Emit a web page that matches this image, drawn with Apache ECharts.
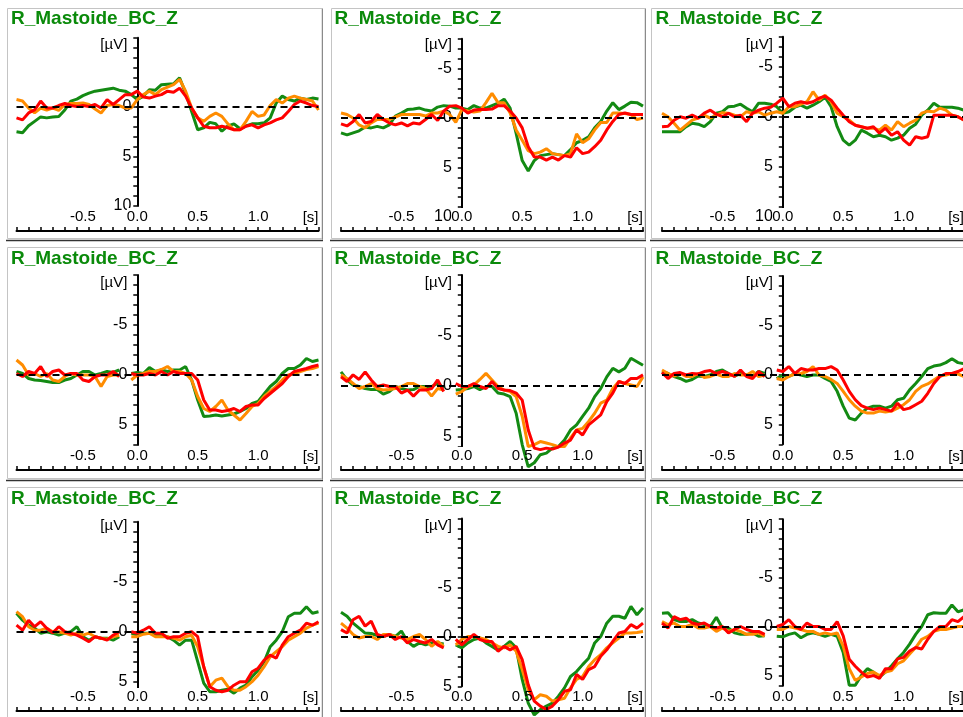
<!DOCTYPE html>
<html><head><meta charset="utf-8">
<script src="https://cdn.jsdelivr.net/npm/echarts@6/dist/echarts.min.js"></script>
<style>html,body{margin:0;padding:0;background:#fff}#c{width:963px;height:717px}</style>
</head><body><div id="c"></div>
<script>
// ---------------- data ----------------
const times = [-1.0,-0.95,-0.9,-0.85,-0.8,-0.75,-0.7,-0.65,-0.6,-0.55,
  -0.5,-0.45,-0.4,-0.35,-0.3,-0.25,-0.2,-0.15,-0.1,-0.05,
  0.0,0.05,0.1,0.15,0.2,0.25,0.3,0.35,0.4,0.45,
  0.5,0.55,0.6,0.65,0.7,0.75,0.8,0.85,0.9,0.95,
  1.0,1.05,1.1,1.15,1.2,1.25,1.3,1.35,1.4,1.45,1.5];
const panelTitle = 'R_Mastoide_BC_Z';
const xTickLabels = ['-0.5','0.0','0.5','1.0'];
const xUnit = '[s]';
const yUnit = '[µV]';
const yTickLabels = [[0,5,10],[-5,0,5,10],[-5,0,5,10],[-5,0,5],[-5,0,5],[-5,0,5],[-5,0,5],[-5,0,5],[-5,0,5]];

const green1 = [2.5,2.6,1.9,1.45,1.0,1.1,1.0,0.95,0.3,-0.6, -0.8,-1.15,-1.4,-1.6,-1.7,-1.8,-1.9,-1.7,-1.6,-1.25, -0.75,-1.1,-1.75,-1.7,-2.25,-2.3,-2.35,-2.95,-1.4,0.45, 2.3,2.1,1.55,1.7,2.45,1.9,1.7,2.2,1.9,1.7, 1.7,1.6,1.1,-0.4,-1.1,-0.75,-0.6,-0.9,-0.75,-0.9, -0.8];
const orange1 = [-0.75,-0.6,0.1,0.6,0.1,0.3,0.1,0.35,-0.25,-0.35, -0.35,-0.4,-0.25,0.2,0.6,-0.15,-0.25,-0.15,0.1,0.1, -0.75,-1.25,-1.6,-1.25,-1.75,-2.0,-2.25,-2.8,-1.6,0.1, 1.1,1.45,0.95,0.6,0.95,1.7,2.3,2.3,1.45,0.45, 0.95,0.8,-0.15,-0.75,-0.4,-0.9,-1.1,-0.9,-0.75,-0.6, 0.3];
const red1 = [1.1,1.3,0.6,0.3,-0.6,0.1,0.1,-0.15,-0.35,-0.15, -0.05,-0.15,-0.05,-0.25,0.1,-0.75,-0.25,-0.75,-1.25,-1.25, -1.6,-1.0,-0.9,-1.1,-1.25,-1.6,-1.5,-1.9,-1.1,0.1, 1.1,1.95,2.1,2.1,1.95,2.1,2.3,2.3,1.95,1.8, 2.1,1.8,1.6,1.3,1.1,0.45,-0.25,-0.6,-0.4,-0.15, -0.05];

const green2 = [1.5,1.7,1.5,1.3,0.9,1.0,0.85,1.0,0.7,-0.2, -0.5,-0.85,-0.9,-1.0,-0.8,-0.7,-1.1,-1.25,-1.2,-1.0, -1.0,-0.85,-1.25,-1.0,-1.0,-1.25,-1.5,-1.9,-1.0,1.55, 4.3,5.35,4.3,3.8,3.7,3.6,3.7,3.8,3.2,2.5, 2.25,1.9,1.0,0.35,-0.7,-1.55,-0.85,-1.2,-1.6,-1.55, -1.2];
const orange2 = [-0.5,-0.35,0,0.7,1.0,0.5,0.15,0.15,0.15,-0.1, -0.35,-0.35,-0.35,-0.35,-0.2,-0.5,-0.5,-0.7,-0.35,0.45, -0.85,-0.7,-0.6,-0.7,-1.55,-2.5,-1.55,-1.55,-0.5,1.2, 2.25,3.3,3.6,3.45,3.1,3.6,3.7,3.8,3.6,1.6, 2.5,2.1,1.2,0.45,0.45,-0.5,-0.5,-0.45,-0.35,0.15, 0];
const red2 = [0.6,0.8,0.35,-0.35,0.5,0.35,-0.35,0.15,0.5,0.7, 0.5,0.8,0.5,0.6,0.15,-0.35,0.25,-0.7,-1.2,-1.25, -1.0,-0.5,-0.8,-0.85,-0.85,-0.9,-1.25,-1.25,-0.7,0, 1.0,2.9,3.95,3.95,4.25,3.95,4.25,3.8,3.95,3.0, 3.6,3.45,2.9,2.25,1.2,0.35,-0.35,-0.5,-0.35,-0.35, -0.35];

const green3 = [1.5,1.5,1.5,1.5,1.0,0.65,0.75,1.0,0.5,-0.35, -0.5,-1.0,-1.05,-1.25,-0.85,-0.5,-1.35,-1.35,-1.25,-1.0, -0.35,-0.5,-0.95,-1.15,-0.85,-1.15,-1.5,-1.95,-1.0,1.0, 2.35,2.85,2.35,1.35,1.65,2.0,1.85,2.0,2.35,2.15, 1.85,1.15,0.75,-0.15,-0.65,-1.35,-0.95,-0.95,-0.95,-0.85, -0.65];
const orange3 = [-0.35,0,0.65,1.35,0.85,0.35,0.15,-0.15,0.15,-0.15, -0.4,-0.35,-0.15,0,-0.5,-0.35,-0.5,-0.15,-0.35,-0.5, -0.35,-1.0,-1.0,-1.25,-1.5,-2.5,-1.65,-2.15,-1.5,-0.35, 0,0.35,0.85,1.0,1.15,1.15,1.35,0.85,1.35,0.5, 1.0,0.65,0.35,-0.35,-0.55,-0.5,-0.85,-0.65,-0.15,0, 0.35];
const red3 = [1.0,0.95,0.35,0,0.15,-0.15,0.15,-0.35,-0.65,-0.25, 0,-0.35,0,-0.15,0.5,-0.35,-0.65,-0.85,-0.95,-1.35, -1.85,-1.0,-1.35,-1.5,-1.35,-1.5,-1.85,-2.05,-1.65,-0.85, -0.15,0.5,0.85,1.0,1.15,1.0,1.65,1.15,1.85,1.5, 2.35,2.85,2.0,2.15,2.0,-0.15,-0.15,-0.15,-0.15,0, 0.35];

const green4 = [-0.35,-0.15,0.35,0.5,0.55,0.65,0.75,0.75,0.5,0.35, 0,-0.35,-0.35,0,-0.15,-0.35,-0.25,-0.5,null,-0.15, -0.25,-0.15,-0.75,-0.35,-0.5,-0.35,-0.5,-0.5,-0.85,0.5, 2.5,4.15,4.1,4.0,4.1,4.0,3.9,3.65,3.35,2.85, 2.65,1.9,1.15,0.65,-0.15,-0.65,-0.65,-1.0,-1.65,-1.35, -1.5];
const orange4 = [-1.5,-1.0,0,-0.15,0.15,-0.15,0.5,0.65,0.15,-0.15, 0,0,0,0.15,1.15,0.15,0,0,null,0.5, 0,-0.15,-0.35,-0.35,-0.55,-0.85,-0.35,-0.35,-0.15,0.5, 2.15,3.35,3.65,3.15,2.5,3.5,4.0,4.5,3.85,3.15, 2.85,2.15,1.65,1.15,0.5,0,-0.15,-0.35,-0.55,-0.65, -0.85];
const red4 = [-0.15,0.15,-0.35,-0.15,-0.85,0.15,-0.35,-0.5,0,-0.15, -0.15,0.5,0.65,0.15,0,0,-0.35,0.15,null,-0.15, 0,0,-0.15,0,-0.35,0,-0.35,-0.15,-0.15,-0.15, 0.5,2.5,3.5,3.5,3.65,3.55,3.35,3.65,3.15,3.0, 3.0,2.35,1.85,1.35,0.85,0.15,-0.35,-0.5,-0.65,-0.85, -1.0];

const green5 = [-1.4,-0.6,-0.1,0.05,0.25,0.35,0.35,0.8,0.55,0.05, 0.25,0.4,0.35,0.05,0.05,0.05,-0.25,0.2,null,0.4, 0.35,0.25,0.05,0.35,0.05,0.05,0.7,0.8,1.05,2.7, 5.8,8.0,7.6,6.8,6.65,6.15,6.0,5.35,4.35,3.85, 3.0,2.2,1.05,0.25,-0.9,-1.75,-1.4,-1.75,-2.75,-2.4, -2.05];
const orange5 = [-1.1,-0.75,-0.25,0.25,0.05,-0.25,0.25,0.4,0.35,0.25, 0.05,-0.25,-0.25,0.05,0.25,1.0,0.25,0.4,null,0.8, 0.55,0.05,-0.1,-0.65,-1.25,-0.6,0.05,0.4,0.55,1.05, 3.0,6.0,5.8,5.5,5.65,5.8,6.0,6.0,5.15,4.35, 4.2,3.5,2.7,1.7,1.4,0.25,-0.45,-0.25,-0.1,0.05, -0.9];
const red5 = [-0.9,-0.45,-1.1,-0.65,-1.4,-0.6,0.05,-0.1,0.05,0.05, 0.7,0.4,1.0,0.4,0.4,0.25,-0.6,0.55,null,-0.25, 0.05,0.05,-0.25,0.05,0.25,-0.45,0.25,0.4,0.45,0.7, 1.4,4.35,6.15,6.3,6.15,6.25,6.05,5.65,5.35,4.35, 4.85,3.85,3.35,2.85,1.55,0.7,-0.45,-0.25,-0.75,-0.75, -1.1];

const green6 = [-0.35,-0.15,0.15,0.35,0.65,0.45,0.1,0.15,0,-0.35, -0.5,-0.15,0.1,-0.15,0,0.15,-0.35,-0.15,null,0.35, 0,0.15,-0.15,0,0.15,0,0,0.35,0.65,1.65, 3.15,4.35,4.55,3.85,3.35,3.15,3.15,3.35,3.15,2.5, 2.35,1.5,0.85,0.15,-0.65,-0.9,-1.0,-1.25,-1.65,-1.25, -1.15];
const orange6 = [-0.5,-0.15,0.1,-0.15,0.15,0.15,-0.15,0.25,0.15,-0.1, 0.15,0.15,-0.15,0,0,-0.35,0.15,0,null,0.35, 0.5,0.15,-0.1,-0.15,-0.35,-0.85,0,0.15,0.45,0.85, 1.65,2.5,3.15,3.65,3.85,3.85,3.65,3.75,3.65,3.35, 3.0,2.5,1.65,1.15,0.9,0.5,0.1,0,-0.15,-0.1, 0.15];
const red6 = [-0.25,0.35,-0.15,-0.25,0,-0.15,-0.1,-0.35,-0.45,-0.15, -0.35,-0.15,0.15,-0.5,0.15,0.35,-0.35,0.15,null,-0.5, -0.35,-0.85,-0.15,-0.65,-0.5,-0.5,-0.65,-0.65,-0.85,-0.5, 0.5,1.65,2.5,3.1,3.35,3.5,3.35,3.5,3.65,2.85, 3.5,3.35,3.0,2.65,1.85,0.85,0.15,-0.15,-0.15,-0.35, -0.65];

const green7 = [-1.85,-1.15,-0.65,-0.35,0.15,0,0.15,0.35,0.15,0, -0.5,0.5,0.85,0.5,0.65,0.65,0.85,0.5,null,0.15, 0.35,0.15,0.15,0.35,0.35,0.5,0.85,1.35,0.85,0.85, 3.0,5.15,6.0,6.0,5.85,5.75,6.15,5.65,5.35,4.5, 3.85,3.0,1.5,0.85,0,-1.5,-1.85,-1.85,-2.5,-1.85, -2.0];
const orange7 = [-2.0,-1.5,-0.5,-0.15,-0.15,-0.35,0,0,0.15,0.35, 0.15,0.35,0.15,0.5,0.65,0.75,0.5,0.35,null,0.5, 0.5,0.25,0.15,0.5,0.5,0.5,0.65,0.85,0.5,0.35, 1.5,3.5,5.5,4.85,4.65,5.5,5.85,5.85,5.5,5.0, 4.35,3.5,2.5,2.0,1.5,0.85,0.5,0.15,-0.35,-0.65, -0.85];
const red7 = [-0.65,-0.15,-1.15,-0.5,-1.0,-0.35,0.1,-0.5,0,0.15, 0.35,0.65,1.0,0.5,0.65,0.85,0.35,0,null,0, 0.15,-0.15,-0.5,0.15,0.15,0.65,0.5,0.5,0.15,0, 0.5,3.5,5.5,5.85,6.0,5.85,5.35,5.0,5.0,4.0, 3.65,2.85,2.35,2.65,1.35,0.5,0.15,-0.15,-0.85,-0.65, -1.0];

const green8 = [-2.5,-2.1,-1.4,-0.9,-0.4,-0.35,-0.15,-0.05,-0.25,-0.05, -0.6,0.45,0.95,0.6,0.8,0.6,0.6,0.7,null,0.8, 1.1,0.6,0.25,0.1,0.6,0.95,1.35,0.95,0.45,1.1, 4.3,6.7,7.9,7.35,7.0,6.7,6.0,5.15,4.0,3.5, 2.8,2.15,0.6,-0.05,-1.4,-2.1,-2.1,-1.9,-3.1,-2.25, -2.95];
const orange8 = [-1.4,-0.9,-0.25,0.1,-0.05,-0.05,0.25,-0.25,-0.25,-0.05, 0.1,0.25,-0.05,-0.25,0.25,0.95,0.45,0.95,null,0.8, 0.25,-0.05,-0.05,0.1,0.25,0.6,0.95,1.1,0.8,1.45, 3.3,5.35,6.35,5.85,6.0,6.5,6.35,6.2,5.15,4.3, 4.0,3.0,2.3,1.8,1.1,0.6,0.1,-0.4,-0.4,-0.45, -0.55];
const red8 = [-0.75,-0.4,-1.75,-2.1,-1.1,-1.6,-0.25,-0.05,-0.25,0.25, -0.05,0.6,0.25,0.45,0.6,0.25,0.8,1.1,null,0.25, 0.8,0.25,-0.25,0.25,0.45,0.45,1.45,0.95,1.3,0.95, 2.3,4.85,6.5,7.0,7.35,7.0,6.35,5.5,5.35,3.8, 4.3,3.3,3.0,1.95,1.3,0.45,-0.4,-0.55,-1.25,-0.9, -1.4];

const green9 = [-1.4,-1.45,-0.75,-0.55,-0.55,-0.75,-0.4,-0.25,-0.05,-1.0, 0.1,0.1,0.6,0.75,0.75,0.6,0.95,0.9,null,0.95, 1.0,0.75,0.6,1.1,0.75,0.6,0.75,0.95,0.75,0.95, 2.6,5.95,5.95,4.95,4.25,4.6,5.1,4.6,3.95,3.25, 2.6,1.75,0.75,-0.05,-1.25,-1.45,-1.4,-1.4,-2.25,-1.55, -1.75];
const orange9 = [-0.55,-0.25,-0.4,-0.05,-0.05,-0.25,0.1,0.1,-0.05,0.45, 0.1,0.45,0.25,0.45,0.75,0.75,0.6,0.95,null,0.25, 0.25,-0.05,0.1,0.25,0.45,0.45,0.75,0.6,0.75,0.6, 1.95,4.25,5.45,5.1,4.75,4.6,4.95,4.6,4.45,3.75, 3.45,2.75,2.1,1.25,0.95,0.45,0.25,0.25,0.1,-0.05, -0.05];
const red9 = [-0.4,0.1,-1.05,-0.75,-0.9,-0.4,-0.25,-0.4,-0.05,0.1, -0.05,0.6,0.25,-0.05,0.25,0.45,0.45,0.75,null,-0.05, -0.25,-0.75,-0.05,0.25,-0.4,-0.05,-0.05,0.25,0.25,-0.55, 0.9,3.3,4.0,4.6,5.1,4.95,5.25,4.25,4.25,3.25, 3.1,2.45,2.1,2.25,1.25,0.45,-0.05,-0.05,-0.75,-0.55, -1.05];

const panelSeries = [
  [green1, orange1, red1], [green2, orange2, red2], [green3, orange3, red3],
  [green4, orange4, red4], [green5, orange5, red5], [green6, orange6, red6],
  [green7, orange7, red7], [green8, orange8, red8], [green9, orange9, red9]
];

// ---------------- layout / style ----------------
const FONT = '"Liberation Sans", Arial, sans-serif';
const lineColors = ['#138a13', '#ff8c00', '#ff0000'];
const titleColor = '#0a8a0a';
const colLeft = [16.5, 341, 662];
const plotW = 302;
const xMin = -1, xMax = 1.5;
const frameX = [[7.5, 322], [331.5, 645], [651.5, 964]];
const frameY = [[8.5, 238.5], [247.5, 478.5], [487.5, 718]];
const sepY = [240, 480];
const rowTop = [0, 240, 480];
const xAxisY = [231, 470, 711];
const unitY = [45, 283, 526];
const zeroY = [107, 118, 116.7, 375, 386, 375, 631.7, 637, 627];
const ppu = [9.9, 9.9, 10, 10, 10.1, 9.9, 10, 9.87, 9.8];
const yMinV = [-7, -8, -8, -10, -11, -10, -11, -12, -11];
const yEndV = [10, 10, 10, 7, 6, 7, 6, 5, 6];
const yLabelGap = [6, 10, 10, 10, 10, 10, 10, 10, 10];
const negLabelShift = [12, 0, 0];

const grids = [], xAxes = [], yAxes = [], series = [], titles = [], graphics = [];
for (let i = 0; i < 9; i++) {
  const r = Math.floor(i / 3), c = i % 3;
  const top = zeroY[i] + yMinV[i] * ppu[i];
  const bottom = zeroY[i] + yEndV[i] * ppu[i];
  const zeroOffset = plotW * (0 - xMin) / (xMax - xMin);
  const shift = negLabelShift[c];
  grids.push({left: colLeft[c], top: top, width: plotW, height: bottom - top,
    containLabel: false, outerBoundsMode: 'none'});
  xAxes.push({
    gridIndex: i, type: 'value', min: xMin, max: xMax, interval: 0.1, position: 'bottom',
    offset: xAxisY[r] - bottom, z: 5,
    axisLine: {onZero: false, lineStyle: {color: '#000', width: 2}},
    axisTick: {inside: true, length: 4, lineStyle: {color: '#000', width: 1.5}},
    axisLabel: {
      inside: true, margin: 7, color: '#000', fontSize: 15, fontFamily: FONT,
      formatter: function (v) {
        const s = (Math.round(v * 10) / 10).toFixed(1);
        if (s === '0.0') return '{z|0.0}';
        if (s === '-0.5') return '{n|-0.5}';
        return xTickLabels.indexOf(s) >= 0 ? s : '';
      },
      rich: {
        z: {backgroundColor: '#fff', color: '#000', fontSize: 15, fontFamily: FONT, padding: [1, 0, 0, 0]},
        n: {color: '#000', fontSize: 15, fontFamily: FONT, padding: [0, 0, 0, shift]}
      }
    },
    splitLine: {show: false}
  });
  const shown = yTickLabels[i];
  yAxes.push({
    gridIndex: i, type: 'value', inverse: true, min: yMinV[i], max: yEndV[i], interval: 1,
    position: 'left', offset: -zeroOffset,
    axisLine: {onZero: false, lineStyle: {color: '#000', width: 2}},
    axisTick: {length: 4, lineStyle: {color: '#000', width: 1.5}},
    axisLabel: {margin: yLabelGap[i], color: '#000', fontSize: 16, fontFamily: FONT,
      formatter: function (v) { return shown.indexOf(v) >= 0 ? String(v) : ''; }},
    splitLine: {show: false}
  });
  panelSeries[i].forEach(function (vals, k) {
    const s = {
      type: 'line', xAxisIndex: i, yAxisIndex: i, showSymbol: false, symbol: 'none',
      clip: false, connectNulls: false, animation: false, z: 2 + k,
      data: times.map(function (t, j) { return [t, vals[j]]; }),
      lineStyle: {color: lineColors[k], width: 3}, itemStyle: {color: lineColors[k]}
    };
    if (k === 2) {
      s.markLine = {silent: true, symbol: ['none', 'none'], animation: false, label: {show: false},
        lineStyle: {color: '#000', type: [7, 5], width: 1.8}, data: [{yAxis: 0}]};
    }
    series.push(s);
  });
  titles.push({text: panelTitle, left: colLeft[c] - 5.5 + (c === 0 ? 0 : -1), top: rowTop[r] + 9, padding: 0,
    textStyle: {color: titleColor, fontSize: 19, fontWeight: 'bold', fontFamily: FONT}});
  const axisX = colLeft[c] + zeroOffset;
  graphics.push({type: 'text', x: axisX - 10, y: unitY[r], silent: true, z: 10,
    style: {text: yUnit, fill: '#000', fontSize: 15, fontFamily: FONT, align: 'right', verticalAlign: 'middle'}});
  graphics.push({type: 'text', x: colLeft[c] + plotW, y: xAxisY[r] - 6, silent: true, z: 10,
    style: {text: xUnit, fill: '#000', fontSize: 15, fontFamily: FONT, align: 'right', verticalAlign: 'bottom'}});
  graphics.push({type: 'rect', silent: true, z: -10,
    shape: {x: frameX[c][0], y: frameY[r][0], width: frameX[c][1] - frameX[c][0], height: frameY[r][1] - frameY[r][0]},
    style: {fill: 'none', stroke: '#c4c4c4', lineWidth: 1}});
  graphics.push({type: 'line', silent: true, z: -9,
    shape: {x1: frameX[c][1] + 0.5, y1: frameY[r][0], x2: frameX[c][1] + 0.5, y2: frameY[r][1] + 1},
    style: {stroke: '#8a8a8a', lineWidth: 1}});
  if (r < 2) {
    graphics.push({type: 'line', silent: true, z: -9,
      shape: {x1: frameX[c][0] - 1.5, y1: sepY[r] + 0.5, x2: frameX[c][1] + 1, y2: sepY[r] + 0.5},
      style: {stroke: '#333', lineWidth: 1.5}});
  }
}

const chart = echarts.init(document.getElementById('c'), null, {renderer: 'canvas'});
chart.setOption({
  animation: false, backgroundColor: '#fff',
  title: titles, grid: grids, xAxis: xAxes, yAxis: yAxes, series: series,
  graphic: {elements: graphics}
});
</script></body></html>
